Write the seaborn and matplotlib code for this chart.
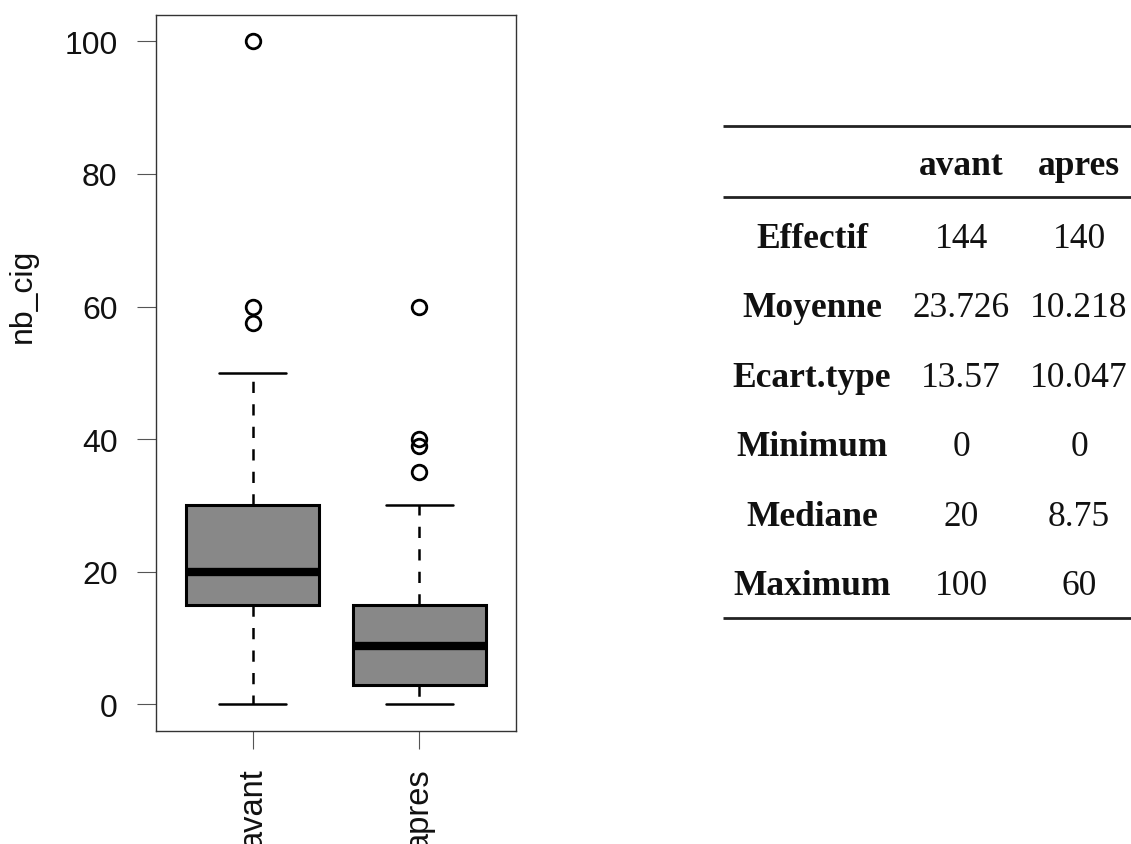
import matplotlib
matplotlib.use("Agg")
import matplotlib.pyplot as plt
import seaborn as sns

# Groups compared
groups = ["avant", "apres"]

# Box summary per group (cigarettes per day)
q1 = [15, 3]
q3 = [30, 15]
whisker_low = [0, 0]
whisker_high = [50, 30]
outliers = [[100, 60, 57.5], [60, 40, 39, 35]]

# Descriptive statistics table
stat_names = ["Effectif", "Moyenne", "Ecart.type", "Minimum", "Mediane", "Maximum"]
stats_avant = [144, 23.726, 13.57, 0, 20, 100]
stats_apres = [140, 10.218, 10.047, 0, 8.75, 60]

y_ticks = [0, 20, 40, 60, 80, 100]

sns.set_theme(style="white")
plt.rcParams["font.family"] = ["Liberation Sans", "DejaVu Sans"]

W, H = 1131, 845
fig = plt.figure(figsize=(W / 100, H / 100), dpi=100)

# ---- boxplot panel ----
ax = fig.add_axes([156 / W, 1 - 732 / H, (516 - 156) / W, (732 - 15.7) / H])

medians = [stats_avant[stat_names.index("Mediane")], stats_apres[stat_names.index("Mediane")]]
box_stats = []
for i, g in enumerate(groups):
    box_stats.append(dict(label=g, q1=q1[i], med=medians[i], q3=q3[i],
                          whislo=whisker_low[i], whishi=whisker_high[i],
                          fliers=outliers[i]))

ax.bxp(box_stats, positions=[1, 2], widths=0.8, patch_artist=True,
       boxprops=dict(facecolor="#888888", edgecolor="black", linewidth=2.2),
       medianprops=dict(color="black", linewidth=6, solid_capstyle="butt"),
       whiskerprops=dict(color="black", linewidth=1.8, linestyle=(0, (4.5, 4.5))),
       capprops=dict(color="black", linewidth=1.8),
       capwidths=0.4,
       flierprops=dict(marker="o", markersize=10.5, markerfacecolor="none",
                       markeredgecolor="black", markeredgewidth=2.0))

ax.set_xlim(0.42, 2.58)
ax.set_ylim(-4, 104)
ax.set_yticks(y_ticks)
ax.set_yticklabels([str(v) for v in y_ticks])
ax.set_xticks([1, 2])
ax.set_xticklabels(groups, rotation=90, va="top")
ax.tick_params(axis="y", which="major", left=True, length=13.7, width=0.8,
               color="#555555", pad=14, labelsize=23, labelcolor="#111111")
ax.tick_params(axis="x", which="major", bottom=True, length=13, width=0.8,
               color="#555555", pad=13, labelsize=23.5, labelcolor="#111111")
ax.set_ylabel("nb_cig", fontsize=23, color="#111111")
ax.yaxis.set_label_coords(-0.328, 0.609)
ax.set_xlabel("")
ax.grid(False)
for sp in ax.spines.values():
    sp.set_visible(True)
    sp.set_color("#333333")
    sp.set_linewidth(1.0)

# ---- statistics table ----
tx = fig.add_axes([700 / W, 1 - 640 / H, 431 / W, 530 / H])
tx.set_xlim(700, 1131)
tx.set_ylim(640, 110)
tx.axis("off")

serif = ["Liberation Serif", "DejaVu Serif"]
col_label_x = 812
col_avant_x = 961
col_apres_x = 1079
fs = 25.5

rule_kw = dict(color="#222222", linewidth=2.0, solid_capstyle="butt", clip_on=False)
tx.plot([722.7, 1131], [126.7, 126.7], **rule_kw)
tx.plot([722.7, 1131], [198, 198], **rule_kw)
tx.plot([722.7, 1131], [619, 619], **rule_kw)

tx.text(col_avant_x, 175, groups[0], ha="center", va="baseline",
        family=serif, fontweight="bold", fontsize=fs, color="#111111")
tx.text(col_apres_x, 175, groups[1], ha="center", va="baseline",
        family=serif, fontweight="bold", fontsize=fs, color="#111111")

row0, row_step = 248, 69.4
for i, name in enumerate(stat_names):
    y = row0 + i * row_step
    tx.text(col_label_x, y, name, ha="center", va="baseline",
            family=serif, fontweight="bold", fontsize=fs, color="#111111")
    tx.text(col_avant_x, y, f"{stats_avant[i]:g}", ha="center", va="baseline",
            family=serif, fontsize=fs, color="#111111")
    tx.text(col_apres_x, y, f"{stats_apres[i]:g}", ha="center", va="baseline",
            family=serif, fontsize=fs, color="#111111")

fig.savefig("out.png", dpi=100)
